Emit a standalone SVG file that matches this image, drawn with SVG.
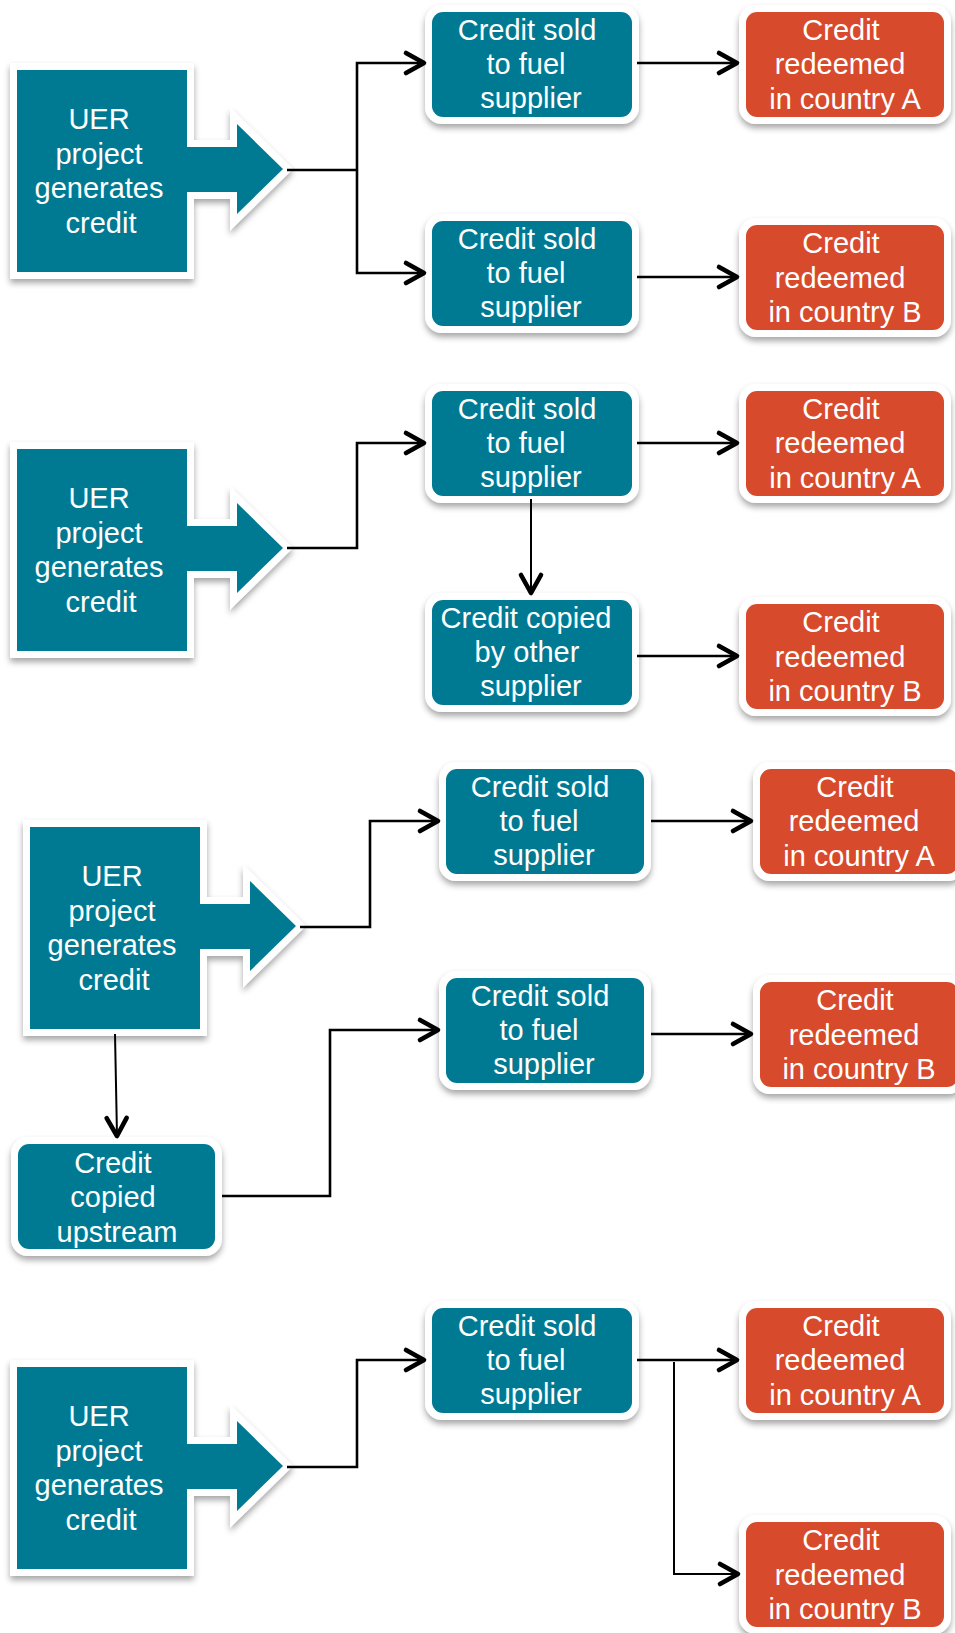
<svg xmlns="http://www.w3.org/2000/svg" width="955" height="1633" viewBox="0 0 955 1633">
<defs>
<style>
.t{font-family:"Liberation Sans",Arial,sans-serif;font-size:29px;fill:#fff;text-anchor:middle}
.teal{fill:#007A93}
.red{fill:#D84A2C}
.bd{fill:#fff;filter:url(#sh)}
.bdp{fill:#fff;stroke:#fff;stroke-width:14;stroke-linejoin:miter;filter:url(#sh)}
.ln{fill:none;stroke:#000;stroke-width:2.6}
.thin{stroke-width:2}
.ar{marker-end:url(#ah)}
</style>
<filter id="sh" x="-20%" y="-20%" width="140%" height="150%">
<feGaussianBlur in="SourceAlpha" stdDeviation="3"/>
<feOffset dy="4" result="b"/>
<feFlood flood-color="#000" flood-opacity="0.35"/>
<feComposite in2="b" operator="in"/>
<feMerge><feMergeNode/><feMergeNode in="SourceGraphic"/></feMerge>
</filter>
<marker id="ah" markerUnits="userSpaceOnUse" viewBox="-25 -15 30 30" markerWidth="30" markerHeight="30" refX="0" refY="0" orient="auto">
<path d="M-18,-10 L0,0 L-18,10" fill="none" stroke="#000" stroke-width="4.6" stroke-linecap="round" stroke-linejoin="round"/>
</marker>
<polygon id="uer" points="17,70 187,70 187,147 237,147 237,124 283,169 237,214 237,192 187,192 187,272 17,272"/>
</defs>
<rect width="955" height="1633" fill="#fff"/>

<!-- Section 1 -->
<g id="uer1">
<use href="#uer" class="bdp"/>
<use href="#uer" class="teal"/>
<text class="t" x="99" y="129">UER</text>
<text class="t" x="99" y="164">project</text>
<text class="t" x="99" y="198">generates</text>
<text class="t" x="101" y="233">credit</text>
</g>
<g id="cs1a">
<rect class="bd" x="425" y="5" width="214" height="119" rx="17"/>
<rect class="teal" x="432" y="12" width="200" height="105" rx="11"/>
<text class="t" x="527" y="40">Credit sold</text>
<text class="t" x="526" y="74">to fuel</text>
<text class="t" x="531" y="108">supplier</text>
</g>
<g id="ra1">
<rect class="bd" x="739" y="5" width="212" height="119" rx="17"/>
<rect class="red" x="746" y="12" width="198" height="105" rx="11"/>
<text class="t" x="841" y="40">Credit</text>
<text class="t" x="840" y="74">redeemed</text>
<text class="t" x="845" y="109">in country A</text>
</g>
<g id="cs1b">
<rect class="bd" x="425" y="214" width="214" height="119" rx="17"/>
<rect class="teal" x="432" y="221" width="200" height="105" rx="11"/>
<text class="t" x="527" y="249">Credit sold</text>
<text class="t" x="526" y="283">to fuel</text>
<text class="t" x="531" y="317">supplier</text>
</g>
<g id="rb1">
<rect class="bd" x="739" y="218" width="212" height="119" rx="17"/>
<rect class="red" x="746" y="225" width="198" height="105" rx="11"/>
<text class="t" x="841" y="253">Credit</text>
<text class="t" x="840" y="288">redeemed</text>
<text class="t" x="845" y="322">in country B</text>
</g>

<!-- Section 2 -->
<g id="uer2" transform="translate(0,379)">
<use href="#uer" class="bdp"/>
<use href="#uer" class="teal"/>
<text class="t" x="99" y="129">UER</text>
<text class="t" x="99" y="164">project</text>
<text class="t" x="99" y="198">generates</text>
<text class="t" x="101" y="233">credit</text>
</g>
<g id="cs2">
<rect class="bd" x="425" y="384" width="214" height="119" rx="17"/>
<rect class="teal" x="432" y="391" width="200" height="105" rx="11"/>
<text class="t" x="527" y="419">Credit sold</text>
<text class="t" x="526" y="453">to fuel</text>
<text class="t" x="531" y="487">supplier</text>
</g>
<g id="ra2">
<rect class="bd" x="739" y="384" width="212" height="119" rx="17"/>
<rect class="red" x="746" y="391" width="198" height="105" rx="11"/>
<text class="t" x="841" y="419">Credit</text>
<text class="t" x="840" y="453">redeemed</text>
<text class="t" x="845" y="488">in country A</text>
</g>
<g id="cc2">
<rect class="bd" x="425" y="593" width="214" height="119" rx="17"/>
<rect class="teal" x="432" y="600" width="200" height="105" rx="11"/>
<text class="t" x="526" y="628">Credit copied</text>
<text class="t" x="527" y="662">by other</text>
<text class="t" x="531" y="696">supplier</text>
</g>
<g id="rb2">
<rect class="bd" x="739" y="597" width="212" height="119" rx="17"/>
<rect class="red" x="746" y="604" width="198" height="105" rx="11"/>
<text class="t" x="841" y="632">Credit</text>
<text class="t" x="840" y="667">redeemed</text>
<text class="t" x="845" y="701">in country B</text>
</g>

<!-- Section 3 -->
<g id="uer3" transform="translate(13,757)">
<use href="#uer" class="bdp"/>
<use href="#uer" class="teal"/>
<text class="t" x="99" y="129">UER</text>
<text class="t" x="99" y="164">project</text>
<text class="t" x="99" y="198">generates</text>
<text class="t" x="101" y="233">credit</text>
</g>
<g id="cs3a">
<rect class="bd" x="439" y="762" width="212" height="119" rx="17"/>
<rect class="teal" x="446" y="769" width="198" height="105" rx="11"/>
<text class="t" x="540" y="797">Credit sold</text>
<text class="t" x="539" y="831">to fuel</text>
<text class="t" x="544" y="865">supplier</text>
</g>
<g id="ra3">
<rect class="bd" x="753" y="762" width="212" height="119" rx="17"/>
<rect class="red" x="760" y="769" width="198" height="105" rx="11"/>
<text class="t" x="855" y="797">Credit</text>
<text class="t" x="854" y="831">redeemed</text>
<text class="t" x="859" y="866">in country A</text>
</g>
<g id="cs3b">
<rect class="bd" x="439" y="971" width="212" height="119" rx="17"/>
<rect class="teal" x="446" y="978" width="198" height="105" rx="11"/>
<text class="t" x="540" y="1006">Credit sold</text>
<text class="t" x="539" y="1040">to fuel</text>
<text class="t" x="544" y="1074">supplier</text>
</g>
<g id="rb3">
<rect class="bd" x="753" y="975" width="212" height="119" rx="17"/>
<rect class="red" x="760" y="982" width="198" height="105" rx="11"/>
<text class="t" x="855" y="1010">Credit</text>
<text class="t" x="854" y="1045">redeemed</text>
<text class="t" x="859" y="1079">in country B</text>
</g>
<g id="ccu">
<rect class="bd" x="11" y="1137" width="211" height="119" rx="17"/>
<rect class="teal" x="18" y="1144" width="197" height="105" rx="11"/>
<text class="t" x="113" y="1173">Credit</text>
<text class="t" x="113" y="1207">copied</text>
<text class="t" x="117" y="1242">upstream</text>
</g>

<!-- Section 4 -->
<g id="uer4" transform="translate(0,1297)">
<use href="#uer" class="bdp"/>
<use href="#uer" class="teal"/>
<text class="t" x="99" y="129">UER</text>
<text class="t" x="99" y="164">project</text>
<text class="t" x="99" y="198">generates</text>
<text class="t" x="101" y="233">credit</text>
</g>
<g id="cs4">
<rect class="bd" x="425" y="1301" width="214" height="119" rx="17"/>
<rect class="teal" x="432" y="1308" width="200" height="105" rx="11"/>
<text class="t" x="527" y="1336">Credit sold</text>
<text class="t" x="526" y="1370">to fuel</text>
<text class="t" x="531" y="1404">supplier</text>
</g>
<g id="ra4">
<rect class="bd" x="739" y="1301" width="212" height="119" rx="17"/>
<rect class="red" x="746" y="1308" width="198" height="105" rx="11"/>
<text class="t" x="841" y="1336">Credit</text>
<text class="t" x="840" y="1370">redeemed</text>
<text class="t" x="845" y="1405">in country A</text>
</g>
<g id="rb4">
<rect class="bd" x="739" y="1515" width="212" height="119" rx="17"/>
<rect class="red" x="746" y="1522" width="198" height="105" rx="11"/>
<text class="t" x="841" y="1550">Credit</text>
<text class="t" x="840" y="1585">redeemed</text>
<text class="t" x="845" y="1619">in country B</text>
</g>

<g id="connectors">
<path class="ln" d="M287,170 H357"/>
<path class="ln ar" d="M357,170 V63 H424"/>
<path class="ln ar" d="M357,170 V273 H424"/>
<path class="ln ar" d="M637,63 H737"/>
<path class="ln ar" d="M637,277 H737"/>

<path class="ln ar" d="M287,548 H357 V443 H424"/>
<path class="ln ar" d="M637,443 H737"/>
<path class="ln thin ar" d="M531,499 V593"/>
<path class="ln ar" d="M637,656 H737"/>

<path class="ln ar" d="M300,927 H370 V821 H438"/>
<path class="ln ar" d="M651,821 H751"/>
<path class="ln ar" d="M651,1034 H751"/>
<path class="ln thin ar" d="M115,1034 L117,1136"/>
<path class="ln ar" d="M222,1196 H330 V1030 H438"/>

<path class="ln ar" d="M287,1467 H357 V1360 H424"/>
<path class="ln ar" d="M637,1360 H737"/>
<path class="ln thin ar" d="M674,1362 V1574 H738"/>
</g>
</svg>
